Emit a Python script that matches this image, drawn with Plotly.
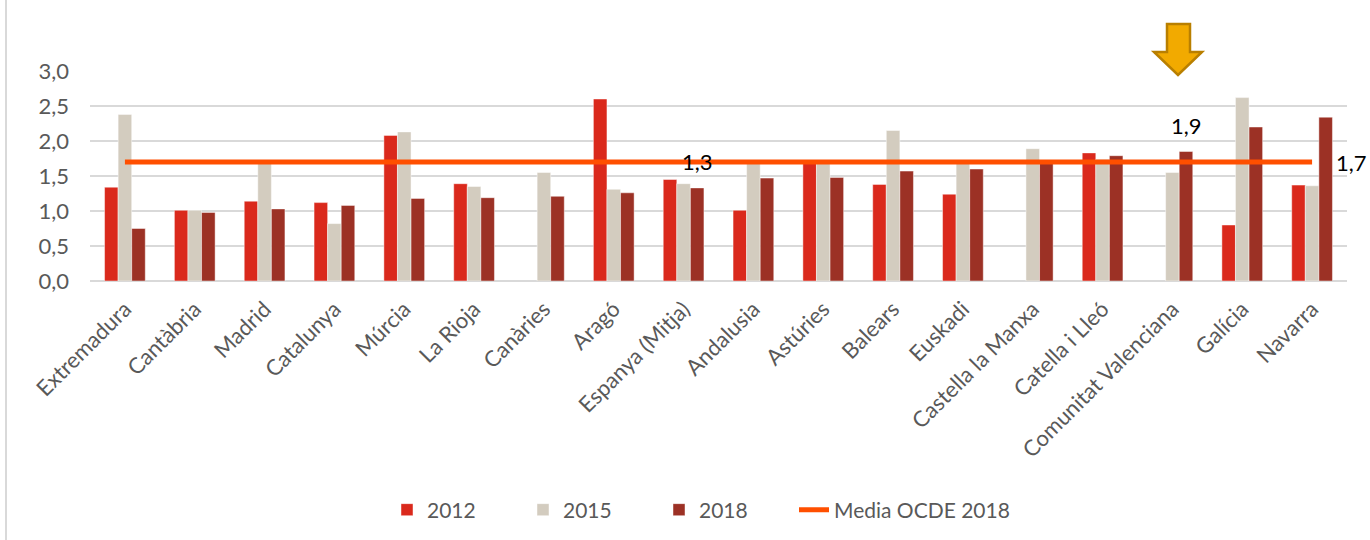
import plotly.graph_objects as go

categories = ["Extremadura", "Cantàbria", "Madrid", "Catalunya", "Múrcia", "La Rioja",
              "Canàries", "Aragó", "Espanya (Mitja)", "Andalusia", "Astúries", "Balears",
              "Euskadi", "Castella la Manxa", "Catella i Lleó", "Comunitat Valenciana",
              "Galícia", "Navarra"]
v2012 = [1.34, 1.01, 1.14, 1.12, 2.08, 1.39, None, 2.60, 1.45, 1.01, 1.69, 1.38,
         1.24, None, 1.83, None, 0.80, 1.37]
v2015 = [2.38, 1.01, 1.68, 0.82, 2.13, 1.35, 1.55, 1.31, 1.39, 1.68, 1.69, 2.15,
         1.68, 1.89, 1.74, 1.55, 2.62, 1.36]
v2018 = [0.75, 0.98, 1.03, 1.08, 1.18, 1.19, 1.21, 1.26, 1.33, 1.47, 1.48, 1.57,
         1.60, 1.68, 1.79, 1.85, 2.20, 2.34]
ocde_2018 = [1.7] * len(categories)
y_ticks = [0, 0.5, 1.0, 1.5, 2.0, 2.5, 3.0]
y_ticklabels = ["0,0", "0,5", "1,0", "1,5", "2,0", "2,5", "3,0"]
labels = [("1,3", 697, 161), ("1,9", 1186, 125), ("1,7", 1351, 162)]

W, H = 1370, 540
L, R, T, B = 90, 23, 71, 259
PW, PH = W - L - R, H - T - B


def px(x):
    return (x - L) / PW


def py(y):
    return (H - B - y) / PH


FONT = "Lato"
GREY = "#595959"

fig = go.Figure()
bar_line = dict(width=1, color="rgba(255,255,255,0.45)")
fig.add_bar(x=categories, y=v2012, name="2012", marker=dict(color="#DA291C", line=bar_line))
fig.add_bar(x=categories, y=v2015, name="2015", marker=dict(color="#D3CCBF", line=bar_line))
fig.add_bar(x=categories, y=v2018, name="2018", marker=dict(color="#9C3125", line=bar_line))
fig.add_scatter(x=categories, y=ocde_2018, mode="lines", name="Media OCDE 2018",
                line=dict(color="#FF4F00", width=5), legend="legend2")

annotations = []
for text, x, y in labels:
    annotations.append(dict(text=text, x=px(x), y=py(y), xref="paper", yref="paper",
                            xanchor="center", yanchor="middle", showarrow=False,
                            font=dict(family=FONT, size=22, color="black")))

# downward block arrow
ax = [1167, 1190, 1202, 1178, 1154]
ay = [24, 52, 75]
path = (f"M{px(ax[0])},{py(ay[0])} L{px(ax[1])},{py(ay[0])} L{px(ax[1])},{py(ay[1])} "
        f"L{px(ax[2])},{py(ay[1])} L{px(ax[3])},{py(ay[2])} L{px(ax[4])},{py(ay[1])} "
        f"L{px(ax[0])},{py(ay[1])} Z")
shapes = [
    dict(type="path", path=path, xref="paper", yref="paper",
         fillcolor="#F2AA00", line=dict(color="#B97F00", width=2.5), layer="above"),
    dict(type="line", xref="paper", yref="paper", x0=px(6), x1=px(6), y0=py(0), y1=py(H),
         line=dict(color="#D9D9D9", width=2)),
]

legend_font = dict(family=FONT, size=21, color=GREY)
fig.update_layout(
    width=W, height=H,
    margin=dict(l=L, r=R, t=T, b=B, autoexpand=False),
    paper_bgcolor="white", plot_bgcolor="white",
    barmode="group", bargap=0.417, bargroupgap=0,
    font=dict(family=FONT, color=GREY, size=20),
    showlegend=True,
    legend=dict(orientation="h", x=px(387), xanchor="left", y=py(510), yanchor="middle",
                font=legend_font, entrywidth=91, entrywidthmode="pixels",
                traceorder="normal", bgcolor="rgba(0,0,0,0)"),
    legend2=dict(orientation="h", x=px(794), xanchor="left", y=py(510), yanchor="middle",
                 font=legend_font, bgcolor="rgba(0,0,0,0)"),
    xaxis=dict(tickangle=-45, tickfont=dict(family=FONT, size=22, color=GREY),
               showgrid=False, showline=False, ticks="", ticklabelstandoff=10),
    yaxis=dict(range=[0, 3.0], tickvals=y_ticks, ticktext=y_ticklabels,
               tickfont=dict(family=FONT, size=22, color=GREY),
               showgrid=True, gridcolor="#D9D9D9", gridwidth=2,
               zeroline=True, zerolinecolor="#D9D9D9", zerolinewidth=2,
               showline=False, ticks="", ticklabelstandoff=20),
    annotations=annotations,
    shapes=shapes,
)

fig.write_html("out.html", config={"displayModeBar": False},
               post_script="document.body.style.margin='0';")
